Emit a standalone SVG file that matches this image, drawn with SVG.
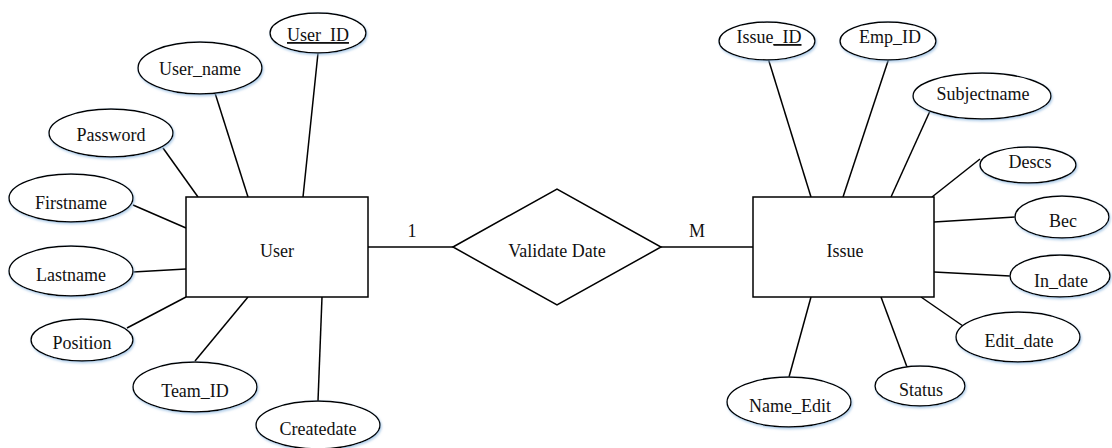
<svg xmlns="http://www.w3.org/2000/svg" width="1112" height="448" viewBox="0 0 1112 448">
<style>
text{font-family:"Liberation Serif","Times New Roman",serif;font-size:18px;fill:#111;text-anchor:middle}
.attr{fill:#fff;stroke:#000;stroke-width:1.4;filter:url(#glow)}
.ent{fill:#fff;stroke:#000;stroke-width:1.5}
#connectors line{stroke:#000;stroke-width:1.5}
.u{text-decoration:underline}
</style>
<defs>
<filter id="glow" x="-20%" y="-30%" width="140%" height="160%">
<feDropShadow dx="1" dy="1.5" stdDeviation="1.2" flood-color="#8fb8e0" flood-opacity="0.7"/>
</filter>
</defs>
<rect width="1112" height="448" fill="#fff"/>
<g id="connectors">
<line x1="318" y1="53" x2="303" y2="197"/>
<line x1="215" y1="93" x2="248" y2="197"/>
<line x1="163" y1="148" x2="198" y2="197"/>
<line x1="133" y1="205" x2="186" y2="228"/>
<line x1="133" y1="272" x2="186" y2="269"/>
<line x1="127" y1="328" x2="186" y2="297"/>
<line x1="195" y1="361" x2="248" y2="297"/>
<line x1="318" y1="401" x2="322" y2="297"/>
<line x1="368" y1="247" x2="453" y2="247"/>
<line x1="661" y1="247" x2="753" y2="247"/>
<line x1="768" y1="58" x2="811" y2="197"/>
<line x1="889" y1="58" x2="843" y2="197"/>
<line x1="930" y1="111" x2="891" y2="197"/>
<line x1="980" y1="159" x2="932" y2="197"/>
<line x1="934" y1="222" x2="1015" y2="217"/>
<line x1="934" y1="272" x2="1010" y2="276"/>
<line x1="921" y1="297" x2="963" y2="326"/>
<line x1="881" y1="297" x2="907" y2="367"/>
<line x1="811" y1="297" x2="789" y2="377"/>
</g>
<g id="user"><rect class="ent" x="186" y="197" width="182" height="100"/><text x="277" y="257">User</text></g>
<g id="issue"><rect class="ent" x="753" y="197" width="181" height="100"/><text x="845" y="257">Issue</text></g>
<g id="validate"><polygon class="ent" points="453,247 557,189 661,247 557,305"/><text x="557" y="257">Validate Date</text></g>
<g id="card1"><text x="412" y="237">1</text></g>
<g id="cardM"><text x="697" y="237">M</text></g>
<g id="user_id"><ellipse class="attr" cx="318" cy="33" rx="48" ry="20"/><text class="u" x="318" y="41">User_ID</text></g>
<g id="user_name"><ellipse class="attr" cx="200" cy="68" rx="62" ry="26"/><text x="200" y="75">User_name</text></g>
<g id="password"><ellipse class="attr" cx="111" cy="133" rx="62" ry="24"/><text x="111" y="141">Password</text></g>
<g id="firstname"><ellipse class="attr" cx="71" cy="198" rx="62" ry="24"/><text x="71" y="209">Firstname</text></g>
<g id="lastname"><ellipse class="attr" cx="71" cy="271" rx="62" ry="25"/><text x="71" y="281">Lastname</text></g>
<g id="position"><ellipse class="attr" cx="82" cy="340" rx="51" ry="21"/><text x="82" y="349">Position</text></g>
<g id="team_id"><ellipse class="attr" cx="195" cy="387" rx="62" ry="25"/><text x="195" y="397">Team_ID</text></g>
<g id="createdate"><ellipse class="attr" cx="318" cy="425" rx="62" ry="24"/><text x="318" y="435">Createdate</text></g>
<g id="issue_id"><ellipse class="attr" cx="767" cy="41" rx="48" ry="19"/><text x="769" y="43">Issue<tspan class="u">_ID</tspan></text></g>
<g id="emp_id"><ellipse class="attr" cx="888" cy="41" rx="48" ry="19"/><text x="890" y="43">Emp_ID</text></g>
<g id="subjectname"><ellipse class="attr" cx="982" cy="96" rx="69" ry="23"/><text x="983" y="100">Subjectname</text></g>
<g id="descs"><ellipse class="attr" cx="1028" cy="165" rx="48" ry="18"/><text x="1030" y="168">Descs</text></g>
<g id="bec"><ellipse class="attr" cx="1062" cy="217" rx="47" ry="21"/><text x="1063" y="227">Bec</text></g>
<g id="in_date"><ellipse class="attr" cx="1060" cy="276" rx="50" ry="21"/><text x="1061" y="287">In_date</text></g>
<g id="edit_date"><ellipse class="attr" cx="1018" cy="337" rx="62" ry="25"/><text x="1019" y="347">Edit_date</text></g>
<g id="status"><ellipse class="attr" cx="920" cy="386" rx="45" ry="20"/><text x="921" y="396">Status</text></g>
<g id="name_edit"><ellipse class="attr" cx="789" cy="402" rx="62" ry="25"/><text x="790" y="412">Name_Edit</text></g>
</svg>
